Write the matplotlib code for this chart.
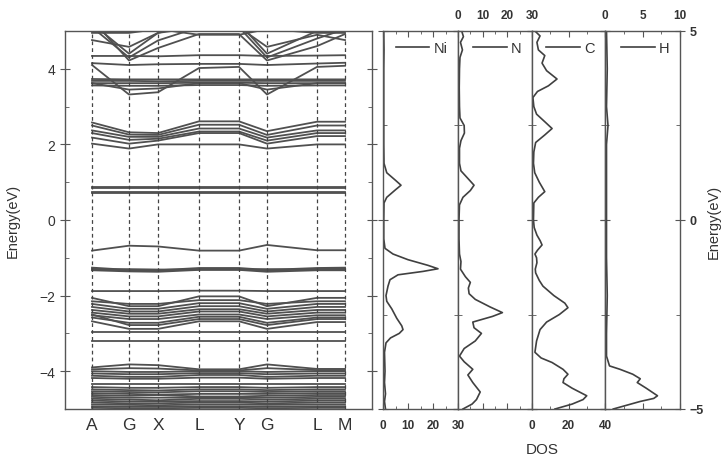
import matplotlib
matplotlib.use('Agg')
import matplotlib.pyplot as plt
from matplotlib.ticker import MultipleLocator

plt.rcParams['font.family'] = ['Liberation Sans', 'DejaVu Sans']

# high-symmetry path
kpt_labels = ['A', 'G', 'X', 'L', 'Y', 'G', 'L', 'M']
kpt_pos = [0, 37, 66, 107, 147, 175, 225, 253]

# band energies (eV) at A, G, X, L, Y, G, L, M
bands_upper = [
    [4.10, 3.32, 3.38, 4.02, 4.05, 3.32, 4.05, 4.08],
    [3.62, 3.45, 3.48, 3.62, 3.62, 3.45, 3.62, 3.62],
    [3.56, 3.55, 3.55, 3.57, 3.57, 3.55, 3.56, 3.56],
    [3.62, 3.62, 3.62, 3.63, 3.63, 3.62, 3.62, 3.62],
    [3.68, 3.68, 3.67, 3.68, 3.68, 3.68, 3.68, 3.68],
    [3.73, 3.72, 3.72, 3.72, 3.72, 3.72, 3.72, 3.72],
    [4.15, 4.10, 4.12, 4.13, 4.13, 4.10, 4.14, 4.16],
    [4.34, 4.34, 4.33, 4.36, 4.36, 4.34, 4.35, 4.36],
    [4.76, 4.58, 4.95, 5.10, 5.10, 4.58, 4.90, 4.76],
    [5.10, 4.30, 4.75, 5.10, 5.10, 4.30, 4.80, 5.05],
    [5.20, 4.40, 4.95, 5.20, 5.20, 4.40, 5.00, 5.20],
    [5.30, 4.22, 4.55, 4.92, 4.92, 4.22, 4.60, 4.92],
    [4.95, 4.95, 5.05, 4.90, 4.90, 5.05, 4.95, 4.95],
]
bands_mid = [
    [2.02, 1.89, 2.00, 2.00, 2.00, 1.89, 2.00, 2.00],
    [2.18, 2.02, 2.10, 2.30, 2.30, 2.02, 2.22, 2.22],
    [2.30, 2.12, 2.15, 2.34, 2.34, 2.10, 2.30, 2.30],
    [2.37, 2.20, 2.20, 2.42, 2.42, 2.18, 2.37, 2.37],
    [2.50, 2.26, 2.25, 2.52, 2.52, 2.25, 2.50, 2.50],
    [2.58, 2.32, 2.30, 2.61, 2.61, 2.35, 2.60, 2.60],
]
bands_flat = [
    [0.86, 0.86, 0.86, 0.86, 0.86, 0.86, 0.86, 0.86],
    [0.84, 0.84, 0.84, 0.84, 0.84, 0.84, 0.84, 0.84],
    [0.74, 0.74, 0.74, 0.74, 0.74, 0.74, 0.74, 0.74],
    [0.71, 0.71, 0.71, 0.71, 0.71, 0.71, 0.71, 0.71],
]
bands_val1 = [
    [-0.81, -0.68, -0.70, -0.81, -0.81, -0.66, -0.80, -0.80],
    [-1.26, -1.32, -1.33, -1.27, -1.27, -1.32, -1.27, -1.26],
    [-1.29, -1.34, -1.35, -1.29, -1.29, -1.35, -1.29, -1.28],
    [-1.31, -1.30, -1.31, -1.31, -1.31, -1.30, -1.31, -1.31],
    [-1.33, -1.36, -1.37, -1.32, -1.32, -1.37, -1.33, -1.33],
    [-1.88, -1.88, -1.88, -1.87, -1.87, -1.88, -1.88, -1.88],
]
bands_val2 = [
    [-2.06, -2.28, -2.28, -2.02, -2.02, -2.28, -2.06, -2.06],
    [-2.15, -2.22, -2.22, -2.12, -2.12, -2.22, -2.15, -2.15],
    [-2.22, -2.35, -2.35, -2.20, -2.20, -2.35, -2.22, -2.22],
    [-2.30, -2.42, -2.42, -2.28, -2.28, -2.42, -2.30, -2.30],
    [-2.38, -2.48, -2.48, -2.36, -2.36, -2.48, -2.38, -2.38],
    [-2.45, -2.55, -2.55, -2.42, -2.42, -2.55, -2.45, -2.45],
    [-2.52, -2.62, -2.62, -2.50, -2.50, -2.62, -2.52, -2.52],
    [-2.58, -2.72, -2.72, -2.56, -2.56, -2.72, -2.58, -2.58],
    [-2.50, -2.78, -2.78, -2.62, -2.62, -2.78, -2.62, -2.62],
    [-2.68, -2.88, -2.88, -2.68, -2.68, -2.88, -2.70, -2.70],
    [-2.97, -2.97, -2.97, -2.97, -2.97, -2.97, -2.97, -2.97],
    [-3.20, -3.20, -3.20, -3.20, -3.20, -3.20, -3.20, -3.20],
]
bands_val3 = [
    [-3.90, -3.82, -3.84, -3.95, -3.95, -3.82, -3.94, -3.94],
    [-3.95, -3.92, -3.93, -3.98, -3.98, -3.92, -3.97, -3.97],
    [-4.00, -4.02, -4.02, -4.00, -4.00, -4.02, -4.00, -4.00],
    [-4.06, -4.08, -4.08, -4.05, -4.05, -4.08, -4.06, -4.06],
    [-4.12, -4.15, -4.15, -4.10, -4.10, -4.15, -4.12, -4.12],
    [-4.18, -4.20, -4.20, -4.17, -4.17, -4.20, -4.18, -4.18],
    [-4.34, -4.34, -4.34, -4.34, -4.34, -4.34, -4.34, -4.34],
    [-4.42, -4.44, -4.44, -4.42, -4.42, -4.44, -4.42, -4.42],
    [-4.48, -4.50, -4.51, -4.48, -4.48, -4.50, -4.48, -4.48],
    [-4.53, -4.55, -4.56, -4.53, -4.53, -4.55, -4.53, -4.53],
    [-4.58, -4.60, -4.62, -4.60, -4.60, -4.60, -4.58, -4.58],
    [-4.63, -4.65, -4.63, -4.67, -4.67, -4.65, -4.63, -4.63],
    [-4.68, -4.70, -4.70, -4.70, -4.70, -4.70, -4.68, -4.68],
    [-4.73, -4.75, -4.77, -4.73, -4.73, -4.75, -4.73, -4.73],
    [-4.78, -4.80, -4.80, -4.79, -4.79, -4.80, -4.78, -4.78],
    [-4.83, -4.85, -4.85, -4.83, -4.83, -4.85, -4.83, -4.83],
    [-4.88, -4.89, -4.90, -4.88, -4.88, -4.89, -4.88, -4.88],
    [-4.93, -4.94, -4.94, -4.93, -4.93, -4.94, -4.93, -4.93],
    [-4.97, -4.98, -4.98, -4.97, -4.97, -4.98, -4.97, -4.97],
]

# projected DOS
ni_energy = [5.0, 4.5, 4.0, 3.0, 2.0, 1.5, 1.25, 1.05, 0.92, 0.8, 0.6, 0.45, 0.0,
             -0.5, -0.75, -0.9, -1.05, -1.2, -1.29, -1.36, -1.45, -1.58, -1.75,
             -2.0, -2.15, -2.35, -2.6, -2.8, -2.9, -3.0, -3.12, -3.25, -3.5,
             -4.0, -4.3, -4.6, -4.8, -5.0]
ni_dos = [0.3, 0.4, 0.3, 0.3, 0.3, 0.4, 1.5, 5.0, 7.2, 5.0, 1.5, 0.4, 0.3,
          0.3, 0.8, 4.0, 10.0, 18.0, 22.0, 16.0, 6.0, 2.8, 2.0,
          1.2, 1.5, 3.5, 5.5, 7.5, 8.0, 6.5, 3.0, 1.2, 0.6,
          0.8, 0.6, 1.0, 0.6, 1.0]

n_energy = [5.0, 4.85, 4.7, 4.5, 4.3, 4.0, 3.5, 3.0, 2.7, 2.5, 2.3, 2.1, 1.9, 1.5,
            1.3, 1.1, 0.92, 0.78, 0.6, 0.4, 0.0, -0.5, -0.9, -1.1, -1.3, -1.5,
            -1.65, -1.8, -1.95, -2.1, -2.3, -2.45, -2.55, -2.7, -2.85, -3.0,
            -3.2, -3.4, -3.6, -3.75, -3.95, -4.1, -4.3, -4.55, -4.75, -4.87, -5.0]
n_dos = [1.5, 2.2, 1.0, 1.8, 0.8, 0.6, 0.5, 0.6, 0.8, 2.5, 2.6, 1.2, 0.6, 0.6,
         1.2, 4.0, 6.5, 5.0, 2.0, 0.6, 0.4, 0.4, 0.6, 1.2, 1.0, 3.0,
         5.0, 4.2, 4.5, 7.0, 13.0, 18.0, 14.0, 6.0, 6.5, 9.5,
         7.0, 2.5, 0.6, 2.5, 6.0, 4.0, 6.0, 9.0, 7.5, 5.7, 2.0]

c_energy = [5.0, 4.87, 4.7, 4.5, 4.35, 4.15, 3.95, 3.73, 3.55, 3.4, 3.24, 3.0, 2.8,
            2.6, 2.42, 2.25, 2.05, 1.8, 1.5, 1.25, 1.0, 0.75, 0.6, 0.45, 0.0,
            -0.2, -0.4, -0.55, -0.66, -0.8, -0.9, -1.0, -1.13, -1.3, -1.4, -1.6,
            -1.75, -2.0, -2.2, -2.32, -2.5, -2.7, -2.9, -3.2, -3.5, -3.65, -3.77,
            -3.95, -4.08, -4.2, -4.3, -4.45, -4.65, -4.75, -4.87, -5.0]
c_dos = [1.6, 4.4, 2.7, 3.5, 7.0, 5.5, 8.0, 13.7, 9.0, 3.0, 0.5, 1.0, 2.5,
         7.0, 11.0, 7.0, 2.0, 1.0, 0.8, 1.5, 4.0, 7.0, 3.5, 1.0, 0.8,
         1.2, 2.7, 4.5, 5.5, 3.0, 1.6, 2.5, 2.7, 1.8, 2.0, 4.0,
         6.0, 12.0, 18.0, 19.7, 15.0, 8.0, 4.4, 2.5, 1.6, 5.0, 11.0,
         17.0, 19.7, 17.5, 17.0, 22.0, 30.0, 28.0, 22.0, 12.6]

h_energy = [5.0, 4.0, 3.0, 2.5, 2.0, 1.0, 0.0, -1.0, -2.0, -3.0, -3.6, -3.86,
            -3.95, -4.08, -4.2, -4.3, -4.45, -4.65, -4.72, -4.8, -5.0]
h_dos = [0.2, 0.3, 0.2, 0.4, 0.2, 0.2, 0.2, 0.2, 0.3, 0.2, 0.2, 0.6,
         2.0, 3.7, 4.7, 4.3, 5.5, 7.0, 6.5, 4.7, 1.1]

line_col = '#505050'
text_col = '#333333'
W, H = 723, 464

fig = plt.figure(figsize=(7.23, 4.64), dpi=100)

def box(x0, x1, y0=32, y1=410):
    return [x0 / W, 1 - y1 / H, (x1 - x0) / W, (y1 - y0) / H]

def style_spines(ax):
    for s in ax.spines.values():
        s.set_color('#555555')
        s.set_linewidth(1.0)

# band structure panel
ax = fig.add_axes(box(65, 372))
for group in [bands_upper, bands_mid, bands_flat, bands_val1, bands_val2, bands_val3]:
    for b in group:
        ax.plot(kpt_pos, b, color=line_col, lw=1.3)
for k in kpt_pos:
    ax.axvline(k, color='#444444', lw=0.9, ls=(0, (3, 2.5)))
ax.set_xlim(-27, 280)
ax.set_ylim(-5, 5)
ax.set_xticks(kpt_pos)
ax.set_xticklabels(kpt_labels, fontsize=12.5, color=text_col)
ax.tick_params(axis='x', length=0, pad=6)
ax.yaxis.set_major_locator(MultipleLocator(2))
ax.yaxis.set_minor_locator(MultipleLocator(1))
ax.tick_params(axis='y', which='major', direction='inout', length=7, left=True, right=True,
               labelsize=10, colors='#555555', labelcolor=text_col)
ax.tick_params(axis='y', which='minor', direction='in', length=3, left=True, right=True,
               colors='#555555')
ax.set_ylabel('Energy(eV)', fontsize=10.5, color=text_col, labelpad=14)
style_spines(ax)

# DOS panels
panels = [
    ('Ni', ni_energy, ni_dos, 383, 458, 30, 10, 5, 'bottom'),
    ('N', n_energy, n_dos, 458, 532, 30, 10, 5, 'top'),
    ('C', c_energy, c_dos, 532, 605, 40, 20, 10, 'bottom'),
    ('H', h_energy, h_dos, 605, 680, 10, 5, 2.5, 'top'),
]
for name, en, dos, x0, x1, xmax, maj, mnr, side in panels:
    a = fig.add_axes(box(x0, x1))
    a.plot(dos, en, color='#404040', lw=1.2, label=name)
    a.set_xlim(0, xmax)
    a.set_ylim(-5, 5)
    a.xaxis.set_major_locator(MultipleLocator(maj))
    a.xaxis.set_minor_locator(MultipleLocator(mnr))
    a.yaxis.set_major_locator(MultipleLocator(5))
    a.yaxis.set_minor_locator(MultipleLocator(2.5))
    a.tick_params(axis='x', which='both', direction='in', top=True, bottom=True,
                  labeltop=(side == 'top'), labelbottom=(side == 'bottom'),
                  labelsize=8.5, colors='#555555', labelcolor=text_col, pad=7)
    a.tick_params(axis='x', which='major', length=4)
    a.tick_params(axis='x', which='minor', length=2)
    a.tick_params(axis='y', which='major', direction='inout', length=7, left=True, right=True,
                  labelleft=False, labelright=(name == 'H'), labelsize=9,
                  colors='#555555', labelcolor=text_col)
    a.tick_params(axis='y', which='minor', direction='in', length=3, left=True, right=True,
                  colors='#555555')
    for lab in a.get_xticklabels() + a.get_yticklabels():
        lab.set_fontweight('bold')
    a.legend(loc='upper right', frameon=False, fontsize=10.5, handlelength=2.3,
             handletextpad=0.3, borderaxespad=0.3, labelcolor=text_col)
    style_spines(a)

fig.text(542 / W, 1 - 450 / H, 'DOS', ha='center', va='center', fontsize=11, color=text_col)
fig.text(714 / W, 1 - 222 / H, 'Energy(eV)', ha='center', va='center', rotation=90,
         fontsize=10.5, color=text_col)

fig.savefig('out.png', dpi=100)
